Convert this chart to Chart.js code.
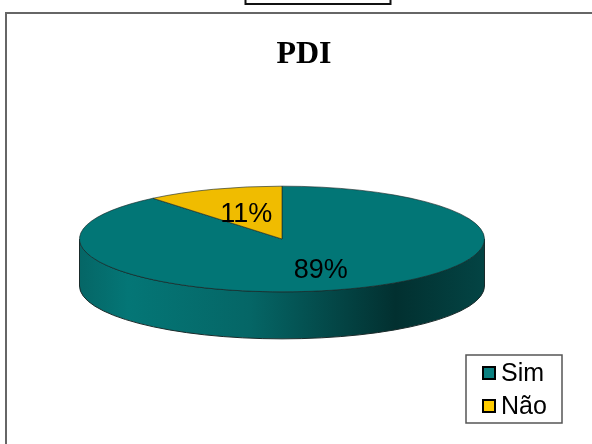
<!DOCTYPE html>
<html>
<head>
<meta charset="utf-8">
<style>
html, body { margin: 0; padding: 0; background: #fff; overflow: hidden; }
#wrap { position: relative; width: 592px; height: 444px; }
</style>
<script src="https://cdn.jsdelivr.net/npm/chart.js@4/dist/chart.umd.min.js"></script>
</head>
<body>
<div id="wrap"><canvas id="pie" width="592" height="444"></canvas></div>
<script>
const chartTitle = 'PDI';
const categories = ['Sim', 'Não'];
const percents = [89, 11];
const sliceColors = ['#027676', '#f0bc00'];
const legendColors = ['#0b8080', '#ffcc00'];

const TILT = 0.261;      // squash of the pie disc
const CENTER_Y = 239;
const DEPTH = 47;        // height of the rim
const LABEL_RADIUS = [0.565, 0.52];
const LABEL_DY = [3, 1];

// frame, the clipped box above it and the rim go under the pie
const pie3d = {
    id: 'pie3d',
    beforeDatasetsDraw(chart) {
        const ctx = chart.ctx;
        const arc = chart.getDatasetMeta(0).data[0];
        const rx = arc.outerRadius;
        const ry = rx * TILT;

        ctx.save();
        ctx.strokeStyle = '#666';
        ctx.lineWidth = 2;
        ctx.beginPath();
        ctx.moveTo(6, 444);
        ctx.lineTo(6, 13);
        ctx.lineTo(592, 13);
        ctx.stroke();
        ctx.strokeStyle = '#111';
        ctx.strokeRect(245.5, -4, 145, 8);

        const side = ctx.createLinearGradient(arc.x - rx, 0, arc.x + rx, 0);
        side.addColorStop(0, '#056666');
        side.addColorStop(0.12, '#047676');
        side.addColorStop(0.42, '#056666');
        side.addColorStop(0.78, '#023030');
        side.addColorStop(1, '#034444');
        ctx.fillStyle = side;
        ctx.strokeStyle = '#1a2a2a';
        ctx.lineWidth = 1;
        ctx.beginPath();
        ctx.ellipse(arc.x, CENTER_Y, rx, ry, 0, 0, Math.PI);
        ctx.lineTo(arc.x - rx, CENTER_Y + DEPTH);
        ctx.ellipse(arc.x, CENTER_Y + DEPTH, rx, ry, 0, Math.PI, 0, true);
        ctx.closePath();
        ctx.fill();
        ctx.stroke();
        ctx.restore();

        // squash the slices the library draws next
        ctx.save();
        ctx.translate(0, CENTER_Y);
        ctx.scale(1, TILT);
        ctx.translate(0, -arc.y);
    },
    afterDatasetsDraw(chart) {
        const ctx = chart.ctx;
        ctx.restore();

        const arcs = chart.getDatasetMeta(0).data;
        ctx.save();
        ctx.fillStyle = '#000';
        ctx.textAlign = 'center';
        ctx.textBaseline = 'middle';
        ctx.font = '27px "Liberation Sans"';
        arcs.forEach((arc, i) => {
            const mid = (arc.startAngle + arc.endAngle) / 2;
            const r = arc.outerRadius * LABEL_RADIUS[i];
            const x = arc.x + Math.cos(mid) * r;
            const y = CENTER_Y + Math.sin(mid) * r * TILT;
            ctx.fillText(percents[i] + '%', x, y + LABEL_DY[i]);
        });

        ctx.font = 'bold 32px "Liberation Serif"';
        ctx.fillText(chartTitle, 304, 55);

        // legend box
        ctx.fillStyle = '#fff';
        ctx.strokeStyle = '#555';
        ctx.lineWidth = 1.5;
        ctx.fillRect(466, 355, 96, 68);
        ctx.strokeRect(466, 355, 96, 68);
        ctx.textAlign = 'left';
        ctx.font = '25px "Liberation Sans"';
        categories.forEach((name, i) => {
            const top = 367 + i * 33;
            ctx.fillStyle = legendColors[i];
            ctx.strokeStyle = '#000';
            ctx.lineWidth = 2;
            ctx.fillRect(483, top, 12, 12);
            ctx.strokeRect(483, top, 12, 12);
            ctx.fillStyle = '#000';
            ctx.fillText(name, 501, top + 7);
        });
        ctx.restore();
    }
};

new Chart(document.getElementById('pie'), {
    type: 'pie',
    data: {
        labels: categories,
        datasets: [{
            data: percents,
            backgroundColor: sliceColors,
            borderColor: '#1a2a2a',
            borderWidth: 1
        }]
    },
    options: {
        responsive: false,
        animation: false,
        layout: { padding: { left: 79, right: 107, top: 19, bottom: 19 } },
        plugins: {
            legend: { display: false },
            title: { display: false },
            tooltip: { enabled: false }
        }
    },
    plugins: [pie3d]
});
</script>
</body>
</html>
